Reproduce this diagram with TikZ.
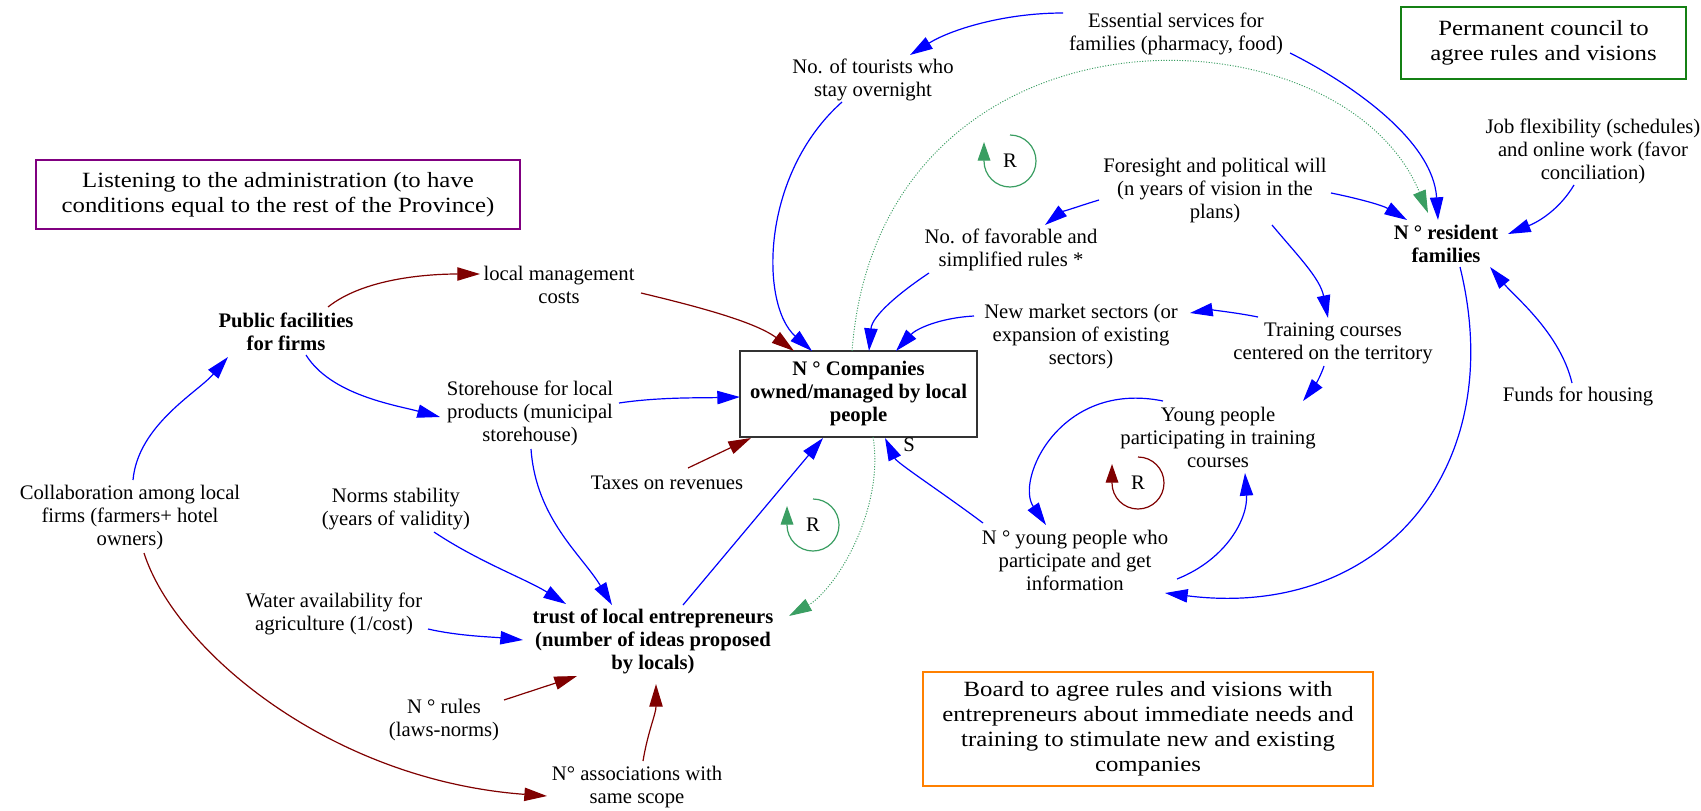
\documentclass[tikz,border=0pt]{standalone}
\usepackage{fontspec}
\setmainfont{Liberation Serif}
\newfontfamily\bigfont{Liberation Serif}[FakeStretch=1.14]
\usetikzlibrary{arrows.meta}
\definecolor{ered}{RGB}{128,0,0}
\definecolor{egreen}{RGB}{58,158,98}
\definecolor{bgreen}{RGB}{20,128,20}
\definecolor{bpurple}{RGB}{128,0,128}
\definecolor{borange}{RGB}{255,128,0}
\begin{document}
\begin{tikzpicture}[x=0.75pt,y=-0.75pt,
  txt/.style={align=center,inner sep=0pt,outer sep=0pt,font=\fontsize{15.5}{17.25}\selectfont},
  btxt/.style={align=center,inner sep=0pt,outer sep=0pt,font=\fontsize{15.5}{17.25}\selectfont\bfseries},
  panel/.style={draw,line width=1.1pt,align=center,inner sep=0pt,font=\bigfont\fontsize{16.3}{18.75}\selectfont},
  poslink/.style={blue,line width=0.9pt,-{Triangle[length=17pt,width=10pt]}},
  neglink/.style={ered,line width=0.9pt,-{Triangle[length=17pt,width=10pt]}},
  lnk/.style={egreen,line width=0.7pt,dash pattern=on 0.8pt off 1.2pt,-{Triangle[length=17pt,width=10pt]}},
  loopr/.style={line width=0.9pt,-{Triangle[length=14pt,width=9.5pt]}},
]
\fill[white] (0,0) rectangle (1701,810);
\useasboundingbox (0,0) rectangle (1701,810);

% nodes
\node[txt] (essential) at (1176,34) {Essential services for\\families (pharmacy, food)};
\node[txt] (tourists) at (873,80) {No. of tourists who\\stay overnight};
\node[panel,draw=bgreen,minimum width=213.75pt,minimum height=54pt] (council) at (1543.5,43) {Permanent council to\\agree rules and visions};
\node[txt] (job) at (1593,151) {Job flexibility (schedules)\\and online work (favor\\conciliation)};
\node[txt] (foresight) at (1215,191) {Foresight and political will\\(n years of vision in the\\plans)};
\node[btxt] (resident) at (1446,244) {N ° resident\\families};
\node[txt] (favorable) at (1011,250) {No. of favorable and\\simplified rules *};
\node[panel,draw=bpurple,minimum width=363pt,minimum height=51.75pt] (listening) at (278,194.5) {Listening to the administration (to have\\conditions equal to the rest of the Province)};
\node[txt] (localmgmt) at (559,285) {local management\\costs};
\node[btxt] (public) at (286,332) {Public facilities\\for firms};
\node[txt] (newmarket) at (1081,337) {New market sectors (or\\expansion of existing\\sectors)};
\node[txt] (training) at (1333,343) {Training courses\\centered on the territory};
\node[btxt,draw=black!80,line width=1.4pt,minimum width=177.75pt,minimum height=64.5pt] (companies) at (858.5,394) {N ° Companies\\owned/managed by local\\people};
\node[txt] (storehouse) at (530,413) {Storehouse for local\\products (municipal\\storehouse)};
\node[txt] (funds) at (1578,396) {Funds for housing};
\node[txt] (youngpart) at (1218,437) {Young people\\participating in training\\courses};
\node[txt] (taxes) at (667,483) {Taxes on revenues};
\node[txt] (collab) at (130,518) {Collaboration among local\\firms (farmers+ hotel\\owners)};
\node[txt] (norms) at (396,509) {Norms stability\\(years of validity)};
\node[txt] (youngwho) at (1075,560) {N ° young people who\\participate and get\\information};
\node[txt] (water) at (334,614) {Water availability for\\agriculture (1/cost)};
\node[btxt] (trust) at (653,641) {trust of local entrepreneurs\\(number of ideas proposed\\by locals)};
\node[panel,draw=borange,minimum width=337.5pt,minimum height=85.5pt] (board) at (1148,729) {Board to agree rules and visions with\\entrepreneurs about immediate needs and\\training to stimulate new and existing\\companies};
\node[txt] (nrules) at (444,720) {N ° rules\\(laws-norms)};
\node[txt] (assoc) at (637,787) {N° associations with\\same scope};
\node[txt] (slabel) at (909,445) {S};
\node[txt] (rtop) at (1010,161) {R};
\node[txt] (rbottom) at (813,525) {R};
\node[txt] (ryoung) at (1138,483) {R};

% loops
\draw[loopr,egreen] ([shift={(0,-26)}]rtop.center) arc[start angle=-90,end angle=180,radius=26] -- ++(0,-19);
\draw[loopr,egreen] ([shift={(0,-26)}]rbottom.center) arc[start angle=-90,end angle=180,radius=26] -- ++(0,-19);
\draw[loopr,ered] ([shift={(0,-26)}]ryoung.center) arc[start angle=-90,end angle=180,radius=26] -- ++(0,-19);

% connectors
\draw[poslink] ([shift={(-113,-21)}]essential.center) .. controls +(-60,0) and +(40,-25) .. ([shift={(37,-25)}]tourists.center);
\draw[poslink] ([shift={(114,19)}]essential.center) .. controls +(60,30) and +(-5,-80) .. ([shift={(-8,-24)}]resident.center);
\draw[lnk] ([shift={(-6.5,-43)}]companies.center) .. controls +(28,-361) and +(-88,-213) .. ([shift={(-18,-31)}]resident.center);
\draw[lnk] ([shift={(14.5,43)}]companies.center) .. controls +(12,73) and +(46,-26) .. ([shift={(136,-25)}]trust.center);
\draw[poslink] ([shift={(-31,22)}]tourists.center) .. controls +(-82,73) and +(-52,-46) .. ([shift={(-46.5,-43)}]companies.center);
\draw[neglink] ([shift={(82,8)}]localmgmt.center) .. controls +(50,12) and +(-40,-30) .. ([shift={(-64.5,-43)}]companies.center);
\draw[neglink] ([shift={(42,-25)}]public.center) .. controls +(35,-28) and +(-55,0) .. ([shift={(-79,-11)}]localmgmt.center);
\draw[poslink] ([shift={(20,23)}]public.center) .. controls +(25,40) and +(-45,-12) .. ([shift={(-90,4)}]storehouse.center);
\draw[poslink] ([shift={(89,-10)}]storehouse.center) .. controls +(40,-6) and +(-40,1) .. ([shift={(-118.5,3)}]companies.center);
\draw[poslink] ([shift={(1,36)}]storehouse.center) .. controls +(5,70) and +(-30,-50) .. ([shift={(-41,-36)}]trust.center);
\draw[neglink] ([shift={(21,-15)}]taxes.center) -- ([shift={(-107.5,44)}]companies.center);
\draw[poslink] ([shift={(30,-36)}]trust.center) -- ([shift={(-35.5,44)}]companies.center);
\draw[poslink] ([shift={(-82,23)}]favorable.center) .. controls +(-30,20) and +(3,-35) .. ([shift={(10.5,-43)}]companies.center);
\draw[poslink] ([shift={(-107,-21)}]newmarket.center) .. controls +(-35,2) and +(20,-22) .. ([shift={(37.5,-43)}]companies.center);
\draw[poslink] ([shift={(-116,9)}]foresight.center) .. controls +(-20,6) and +(15,-12) .. ([shift={(34,-25)}]favorable.center);
\draw[poslink] ([shift={(116,2)}]foresight.center) .. controls +(25,5) and +(-25,-15) .. ([shift={(-39,-24)}]resident.center);
\draw[poslink] ([shift={(57,34)}]foresight.center) .. controls +(25,30) and +(-8,-40) .. ([shift={(-5,-25)}]training.center);
\draw[poslink] ([shift={(-75,-26)}]training.center) .. controls +(-25,-5) and +(20,-3) .. ([shift={(109,-24)}]newmarket.center);
\draw[poslink] ([shift={(-9,23)}]training.center) .. controls +(-5,15) and +(8,-10) .. ([shift={(85,-36)}]youngpart.center);
\draw[poslink] ([shift={(-55,-36)}]youngpart.center) .. controls +(-103,-21) and +(-31,-45) .. ([shift={(-29,-35)}]youngwho.center);
\draw[poslink] ([shift={(102,19)}]youngwho.center) .. controls +(50,-20) and +(3,45) .. ([shift={(27,36)}]youngpart.center);
\draw[poslink] ([shift={(-92,-37)}]youngwho.center) .. controls +(-40,-30) and +(12,25) .. ([shift={(26.5,44)}]companies.center);
\draw[poslink] ([shift={(14,23)}]resident.center) .. controls +(50,203) and +(215,27) .. ([shift={(90,33)}]youngwho.center);
\draw[poslink] ([shift={(-19,34)}]job.center) .. controls +(-15,25) and +(30,-12) .. ([shift={(62,-10)}]resident.center);
\draw[poslink] ([shift={(-6,-13)}]funds.center) .. controls +(-12,-50) and +(25,30) .. ([shift={(44,23)}]resident.center);
\draw[poslink] ([shift={(3,-38)}]collab.center) .. controls +(5,-55) and +(-30,35) .. ([shift={(-58,25)}]public.center);
\draw[neglink] ([shift={(14,35)}]collab.center) .. controls +(31,97) and +(-217,-16) .. ([shift={(-90,9)}]assoc.center);
\draw[poslink] ([shift={(38,23)}]norms.center) .. controls +(45,30) and +(-40,-25) .. ([shift={(-87,-37)}]trust.center);
\draw[poslink] ([shift={(94,15)}]water.center) .. controls +(30,7) and +(-30,-3) .. ([shift={(-130,-1)}]trust.center);
\draw[neglink] ([shift={(60,-20)}]nrules.center) -- ([shift={(-76,35)}]trust.center);
\draw[neglink] ([shift={(6,-26)}]assoc.center) .. controls +(5,-30) and +(0,30) .. ([shift={(3,43)}]trust.center);
\end{tikzpicture}
\end{document}
